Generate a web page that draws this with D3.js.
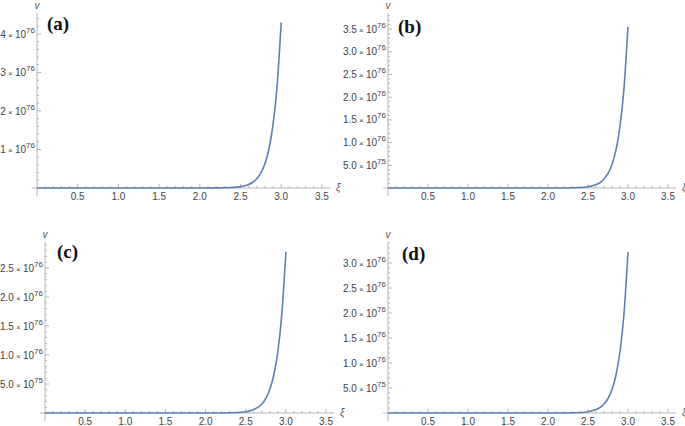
<!DOCTYPE html>
<html>
<head>
<meta charset="utf-8">
<script src="https://cdn.jsdelivr.net/npm/d3@7"></script>
<style>
    body { margin: 0; background: #fff; }
    svg { display: block; }
    .axis-line, .tick-line { stroke: #b5b5b5; stroke-width: 1; fill: none; }
    .tick-label { font-family: "Liberation Sans", Arial, sans-serif; font-size: 10px; fill: #444; }
    .axis-name { font-family: "Liberation Sans", Arial, sans-serif; font-size: 10px; font-style: italic; fill: #555; }
    .panel-label { font-family: "Liberation Serif", "Times New Roman", serif; font-size: 19px; font-weight: bold; fill: #111; }
    .curve { stroke: #5e81b5; stroke-width: 1.6; fill: none; }
</style>
</head>
<body>
<div id="chart"></div>
<script>
// xi sample points (shared) and v values per panel, in units of 1e76
const xiValues = [0, 0.5, 1.0, 1.5, 2.0, 2.2, 2.4, 2.45, 2.5, 2.55, 2.6, 2.65, 2.7, 2.75, 2.8, 2.85, 2.9, 2.95, 3.0];
const vA = [0, 0, 0, 0, 0.0003, 0.002, 0.014, 0.022, 0.035, 0.057, 0.092, 0.15, 0.24, 0.39, 0.63, 1.02, 1.65, 2.66, 4.3];
const vB = [0, 0, 0, 0, 0.0002, 0.0016, 0.011, 0.018, 0.029, 0.047, 0.076, 0.12, 0.20, 0.32, 0.52, 0.84, 1.36, 2.20, 3.55];
const vC = [0, 0, 0, 0, 0.0002, 0.0013, 0.009, 0.014, 0.023, 0.037, 0.060, 0.096, 0.156, 0.25, 0.41, 0.66, 1.06, 1.72, 2.78];
const vD = [0, 0, 0, 0, 0.0002, 0.0015, 0.010, 0.016, 0.026, 0.043, 0.069, 0.11, 0.18, 0.29, 0.47, 0.76, 1.23, 1.99, 3.22];

const xTicks = [0.5, 1.0, 1.5, 2.0, 2.5, 3.0, 3.5];
const xTickLabels = ["0.5", "1.0", "1.5", "2.0", "2.5", "3.0", "3.5"];

const yTicksA = [1, 2, 3, 4];
const yTickLabelsA = [["1", "76"], ["2", "76"], ["3", "76"], ["4", "76"]];
const yTicksB = [0.5, 1.0, 1.5, 2.0, 2.5, 3.0, 3.5];
const yTickLabelsB = [["5.0", "75"], ["1.0", "76"], ["1.5", "76"], ["2.0", "76"], ["2.5", "76"], ["3.0", "76"], ["3.5", "76"]];
const yTicksC = [0.5, 1.0, 1.5, 2.0, 2.5];
const yTickLabelsC = [["5.0", "75"], ["1.0", "76"], ["1.5", "76"], ["2.0", "76"], ["2.5", "76"]];
const yTicksD = [0.5, 1.0, 1.5, 2.0, 2.5, 3.0];
const yTickLabelsD = [["5.0", "75"], ["1.0", "76"], ["1.5", "76"], ["2.0", "76"], ["2.5", "76"], ["3.0", "76"]];

const panelNames = ["(a)", "(b)", "(c)", "(d)"];

// layout: origin pixel, px per unit, top of y axis, label position
let panels = [
    { name: panelNames[0], v: vA, yTicks: yTicksA, yLabels: yTickLabelsA, yMinor: 0.2,
      ox: 37, oy: 188, kx: 81.4, ky: 38.5, yTop: 13, lx: 47, ly: 30 },
    { name: panelNames[1], v: vB, yTicks: yTicksB, yLabels: yTickLabelsB, yMinor: 0.1,
      ox: 388, oy: 188, kx: 80, ky: 45.4, yTop: 13, lx: 398, ly: 33 },
    { name: panelNames[2], v: vC, yTicks: yTicksC, yLabels: yTickLabelsC, yMinor: 0.1,
      ox: 45, oy: 413, kx: 80.3, ky: 58, yTop: 242, lx: 57, ly: 258 },
    { name: panelNames[3], v: vD, yTicks: yTicksD, yLabels: yTickLabelsD, yMinor: 0.1,
      ox: 388, oy: 413, kx: 80, ky: 50, yTop: 242, lx: 402, ly: 260 }
];

function addToParent(parent, tag, cls) {
    return parent.append(tag).attr('class', cls);
}

function drawPanel(svg, p) {
    let g = addToParent(svg, 'g', 'panel');

    let xScaler = d3.scaleLinear().domain([0, 3.5]).range([p.ox, p.ox + 3.5 * p.kx]);
    let yScaler = d3.scaleLinear().domain([0, 1]).range([p.oy, p.oy - p.ky]);

    // axis lines
    addToParent(g, 'line', 'axis-line')
        .attr('x1', xScaler(-0.06)).attr('x2', xScaler(3.6))
        .attr('y1', p.oy).attr('y2', p.oy);
    addToParent(g, 'line', 'axis-line')
        .attr('x1', p.ox).attr('x2', p.ox)
        .attr('y1', p.oy + 8).attr('y2', p.yTop);

    // x ticks, major every 0.5, minor every 0.1
    let xMinor = d3.range(1, 36).map(i => i / 10);
    g.selectAll('.xminor')
        .data(xMinor)
        .enter()
        .append('line')
        .attr('class', 'tick-line')
        .attr('x1', d => xScaler(d)).attr('x2', d => xScaler(d))
        .attr('y1', p.oy).attr('y2', d => p.oy - (Math.abs(d * 2 - Math.round(d * 2)) < 1e-6 ? 4 : 2));

    g.selectAll('.xlabel')
        .data(xTicks)
        .enter()
        .append('text')
        .attr('class', 'tick-label')
        .attr('x', d => xScaler(d))
        .attr('y', p.oy + 12)
        .attr('text-anchor', 'middle')
        .text((d, i) => xTickLabels[i]);

    // y ticks
    let yMax = yScaler.invert(p.yTop);
    let yMinorTicks = d3.range(1, Math.floor(yMax / p.yMinor + 1e-6) + 1).map(i => i * p.yMinor);
    let major = p.yMinor * 5;
    g.selectAll('.yminor')
        .data(yMinorTicks)
        .enter()
        .append('line')
        .attr('class', 'tick-line')
        .attr('y1', d => yScaler(d)).attr('y2', d => yScaler(d))
        .attr('x1', p.ox)
        .attr('x2', d => p.ox + (Math.abs(d / major - Math.round(d / major)) < 1e-6 ? 4 : 2));

    let yl = g.selectAll('.ylabel')
        .data(p.yTicks)
        .enter()
        .append('text')
        .attr('class', 'tick-label')
        .attr('x', p.ox - 2)
        .attr('y', d => yScaler(d) + 3.5)
        .attr('text-anchor', 'end');
    yl.append('tspan').text((d, i) => p.yLabels[i][0]);
    yl.append('tspan').style('font-size', '8px').text(' \u00d7 ');
    yl.append('tspan').text('10');
    yl.append('tspan').attr('dy', -5).style('font-size', '8px').text((d, i) => p.yLabels[i][1]);

    // axis names
    addToParent(g, 'text', 'axis-name')
        .attr('x', p.ox).attr('y', p.yTop - 4)
        .attr('text-anchor', 'middle')
        .text('v');
    addToParent(g, 'text', 'axis-name')
        .attr('x', xScaler(3.6) + 6).attr('y', p.oy + 3)
        .text('\u03be');

    // curve
    let pts = xiValues.map((x, i) => [x, p.v[i]]);
    let line = d3.line()
        .x(d => xScaler(d[0]))
        .y(d => yScaler(d[1]))
        .curve(d3.curveMonotoneX);
    addToParent(g, 'path', 'curve').attr('d', line(pts));

    // panel label
    addToParent(g, 'text', 'panel-label')
        .attr('x', p.lx).attr('y', p.ly)
        .text(p.name);
}

let svg = d3.select('#chart').append('svg')
    .attr('width', 685)
    .attr('height', 426);

panels.forEach(p => drawPanel(svg, p));
</script>
</body>
</html>
